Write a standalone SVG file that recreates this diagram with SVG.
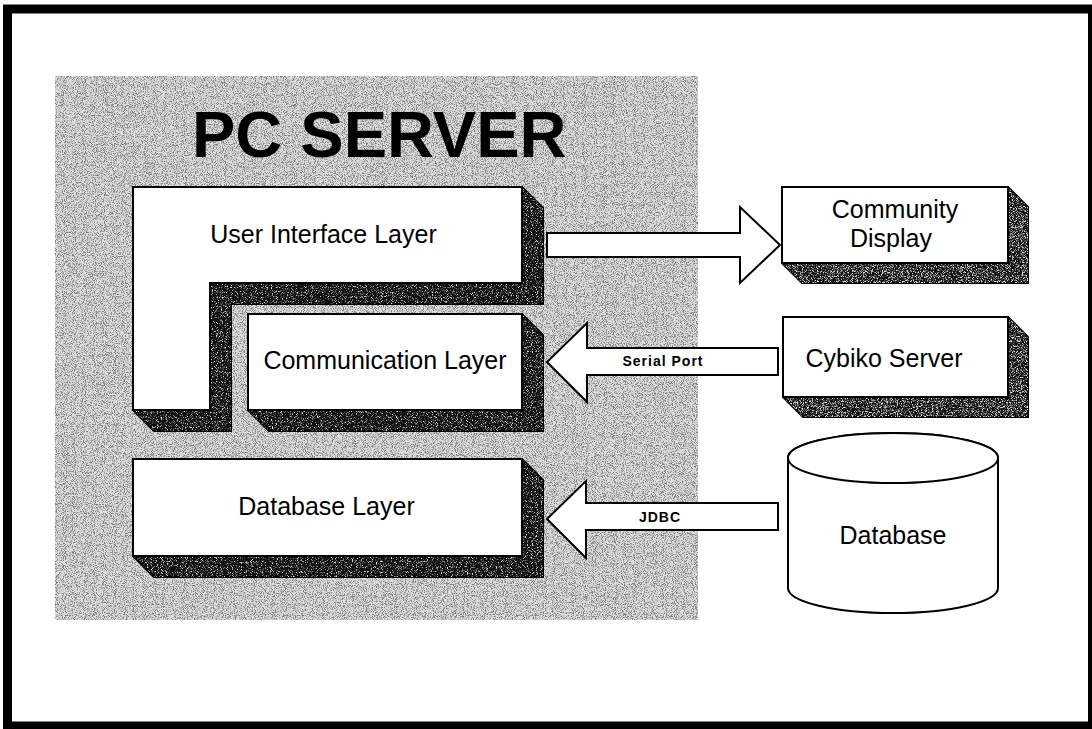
<svg xmlns="http://www.w3.org/2000/svg" width="1092" height="729" viewBox="0 0 1092 729">
  <defs>
    <!-- dark stipple for the server backdrop -->
    <filter id="stipple" x="0" y="0" width="1" height="1">
      <feTurbulence type="fractalNoise" baseFrequency="1.1" numOctaves="1" seed="4" result="n"/>
      <feColorMatrix in="n" type="matrix" values="0 0 0 0 0.2  0 0 0 0 0.2  0 0 0 0 0.2  5 0 0 0 -2.3"/>
      <feComposite in2="SourceAlpha" operator="in"/>
    </filter>
    <!-- light specks over the dark extrusion faces -->
    <filter id="specks" x="0" y="0" width="1" height="1">
      <feTurbulence type="fractalNoise" baseFrequency="1.2" numOctaves="1" seed="9" result="n"/>
      <feColorMatrix in="n" type="matrix" values="0 0 0 0 0.8  0 0 0 0 0.8  0 0 0 0 0.8  5 0 0 0 -2.65"/>
      <feComposite in2="SourceAlpha" operator="in"/>
    </filter>
    <filter id="specksDense" x="0" y="0" width="1" height="1">
      <feTurbulence type="fractalNoise" baseFrequency="1.2" numOctaves="1" seed="11" result="n"/>
      <feColorMatrix in="n" type="matrix" values="0 0 0 0 0.75  0 0 0 0 0.75  0 0 0 0 0.75  5 0 0 0 -2.4"/>
      <feComposite in2="SourceAlpha" operator="in"/>
    </filter>
  </defs>
  <style>
    .face { fill: #ffffff; stroke: #000000; stroke-width: 2; stroke-linejoin: miter; }
    .depth { fill: #111111; stroke: #000000; stroke-width: 2; stroke-linejoin: miter; }
    .lbl { font-family: "Liberation Sans", Arial, sans-serif; font-size: 25px; fill: #000000; text-anchor: middle; }
    .tag { font-family: "Liberation Sans", Arial, sans-serif; font-size: 14px; font-weight: bold; fill: #000000; text-anchor: middle; }
    .pipe { fill: #ffffff; stroke: #000000; stroke-width: 2; stroke-linejoin: miter; }
  </style>

  <rect x="0" y="0" width="1092" height="729" fill="#ffffff"/>
  <!-- page frame -->
  <rect x="7.5" y="9" width="1085" height="717" fill="none" stroke="#000000" stroke-width="9"/>

  <!-- server backdrop -->
  <g id="pc-server">
    <rect x="55" y="76" width="643" height="544" fill="#dedede"/>
    <rect x="55" y="76" width="643" height="544" fill="#000000" filter="url(#stipple)"/>
    <text x="192" y="157" font-family="'Liberation Sans', Arial, sans-serif" font-size="65" font-weight="bold" fill="#000000">PC SERVER</text>
  </g>

  <g id="user-interface-layer">
    <polygon class="depth" points="133,187 522,187 543,208 543,304 231,304 231,431 154,431 133,410"/>
    <polygon fill="#000" filter="url(#specks)" points="133,187 522,187 543,208 543,304 231,304 231,431 154,431 133,410"/>
    <polygon class="face" points="133,187 522,187 522,283 210,283 210,410 133,410"/>
    <text class="lbl" x="323.5" y="243">User Interface Layer</text>
  </g>

  <g id="communication-layer">
    <polygon class="depth" points="248,314 522,314 543,335 543,431 269,431 248,410"/>
    <polygon fill="#000" filter="url(#specks)" points="248,314 522,314 543,335 543,431 269,431 248,410"/>
    <rect class="face" x="248" y="314" width="274" height="96"/>
    <text class="lbl" x="385" y="369">Communication Layer</text>
  </g>

  <g id="database-layer">
    <polygon class="depth" points="133,459 522,459 543,480 543,577 154,577 133,556"/>
    <polygon fill="#000" filter="url(#specks)" points="133,459 522,459 543,480 543,577 154,577 133,556"/>
    <rect class="face" x="133" y="459" width="389" height="97"/>
    <text class="lbl" x="326.5" y="515">Database Layer</text>
  </g>

  <g id="community-display">
    <polygon class="depth" points="782,187 1008,187 1028,207 1028,283 802,283 782,263"/>
    <polygon fill="#000" filter="url(#specksDense)" points="782,187 1008,187 1028,207 1028,283 802,283 782,263"/>
    <rect class="face" x="782" y="187" width="226" height="76"/>
    <text class="lbl" x="895" y="218">Community</text>
    <text class="lbl" x="891" y="247">Display</text>
  </g>

  <g id="cybiko-server">
    <polygon class="depth" points="783,317 1008,317 1028,337 1028,417 803,417 783,397"/>
    <polygon fill="#000" filter="url(#specksDense)" points="783,317 1008,317 1028,337 1028,417 803,417 783,397"/>
    <rect class="face" x="783" y="317" width="225" height="80"/>
    <text class="lbl" x="884" y="367">Cybiko Server</text>
  </g>

  <g id="database">
    <path class="face" d="M788,458 L788,588 A105,25 0 0 0 998,588 L998,458 A105,25 0 0 0 788,458 Z"/>
    <ellipse class="face" cx="893" cy="458" rx="105" ry="25"/>
    <text class="lbl" x="893" y="544">Database</text>
  </g>

  <!-- block arrows between the server layers and the outside parts -->
  <g id="connectors">
    <polygon class="pipe" points="547,233 740,233 740,207 780,245 740,283 740,257 547,257"/>
    <polygon class="pipe" points="547,362 587,323 587,348 778,348 778,375 587,375 587,402"/>
    <text class="tag" x="663" y="366" letter-spacing="1">Serial Port</text>
    <polygon class="pipe" points="547,519 586,481 586,503 778,503 778,530 586,530 586,558"/>
    <text class="tag" x="660" y="522" letter-spacing="1">JDBC</text>
  </g>
</svg>
